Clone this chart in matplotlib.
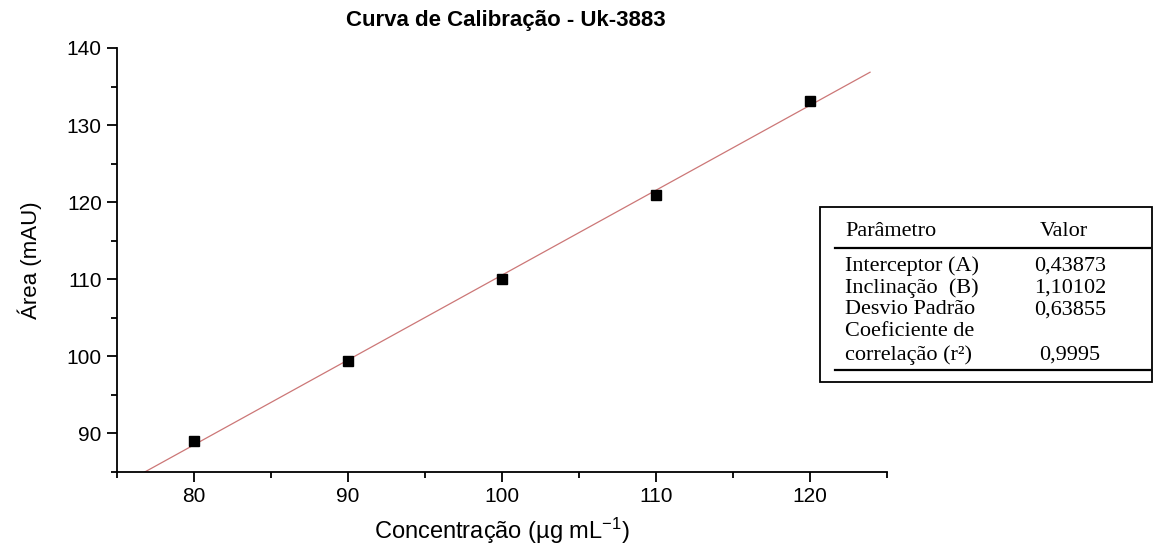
import numpy as np
import matplotlib.pyplot as plt
from matplotlib.patches import Rectangle
from matplotlib.lines import Line2D
from matplotlib.ticker import MultipleLocator

plt.rcParams['font.family'] = ['Liberation Sans', 'DejaVu Sans']
plt.rcParams['mathtext.fontset'] = 'custom'
plt.rcParams['mathtext.rm'] = 'Liberation Sans'
plt.rcParams['mathtext.it'] = 'Liberation Sans:italic'

# ==================================================
# DATA
# ==================================================

concentracao = [80, 90, 100, 110, 120]
area = [89.0, 99.35, 110.0, 120.95, 133.1]

intercepto = 0.43873
inclinacao = 1.10102
linha_x = [76.8, 123.9]

parametros = ['Interceptor (A)', 'Inclinação  (B)', 'Desvio Padrão',
              'Coeficiente de', 'correlação (r²)']
valores = ['0,43873', '1,10102', '0,63855', '', '0,9995']

# ==================================================
# CHART
# ==================================================

fig = plt.figure(figsize=(11.68, 5.44), dpi=100)
ax = fig.add_axes([0.1002, 0.1324, 0.6592, 0.7794])

lx = np.array(linha_x)
ax.plot(lx, intercepto + inclinacao * lx, color='#cc7777', lw=0.9, zorder=1)
ax.plot(concentracao, area, 's', color='black', markersize=7, zorder=2)

ax.set_xlim(75, 125)
ax.set_ylim(85, 140)
ax.xaxis.set_minor_locator(MultipleLocator(5))
ax.yaxis.set_minor_locator(MultipleLocator(5))
ax.set_xticks([80, 90, 100, 110, 120])
ax.set_yticks([90, 100, 110, 120, 130, 140])

for s in ['top', 'right']:
    ax.spines[s].set_visible(False)
for s in ['left', 'bottom']:
    ax.spines[s].set_linewidth(1.3)

ax.tick_params(which='major', direction='out', length=7, width=1.3,
               labelsize=15, pad=4)
ax.tick_params(which='minor', direction='out', length=4.5, width=1.3)

ax.set_xlabel('Concentração (µg mL$^{-1}$)', fontsize=17, labelpad=7)
ax.set_ylabel('Área (mAU)', fontsize=16, labelpad=18,
              family=['Liberation Sans Narrow', 'Liberation Sans'])

fig.text(0.433, 0.963, 'Curva de Calibração - Uk-3883', ha='center',
         va='center', fontsize=16, fontweight='bold')

# ==================================================
# TABLE
# ==================================================

W, H = 1168, 544

def fx(px):
    return px / W

def fy(py):
    return 1 - py / H

fig.patches.append(Rectangle((fx(820), fy(382)), fx(1152) - fx(820),
                             fy(207) - fy(382), transform=fig.transFigure,
                             fill=False, edgecolor='black', lw=1.3))
for yl in [248, 370]:
    fig.lines.append(Line2D([fx(835), fx(1150)], [fy(yl), fy(yl)],
                            transform=fig.transFigure, color='black', lw=1.6))

serif = ['Liberation Serif', 'DejaVu Serif']
fs = 16
fig.text(fx(845), fy(232), 'Parâmetro', family=serif, fontsize=fs, va='center')
fig.text(fx(1040), fy(232), 'Valor', family=serif, fontsize=fs, va='center')

row_y = [266, 288, 310, 332, 355]
for p, v, yy in zip(parametros, valores, row_y):
    fig.text(fx(845), fy(yy), p, family=serif, fontsize=fs, va='center')
    if v:
        xv = 1039 if len(v) < 7 else 1034
        fig.text(fx(xv), fy(yy), v, family=serif, fontsize=fs, va='center')

plt.savefig('out.png', dpi=100)
